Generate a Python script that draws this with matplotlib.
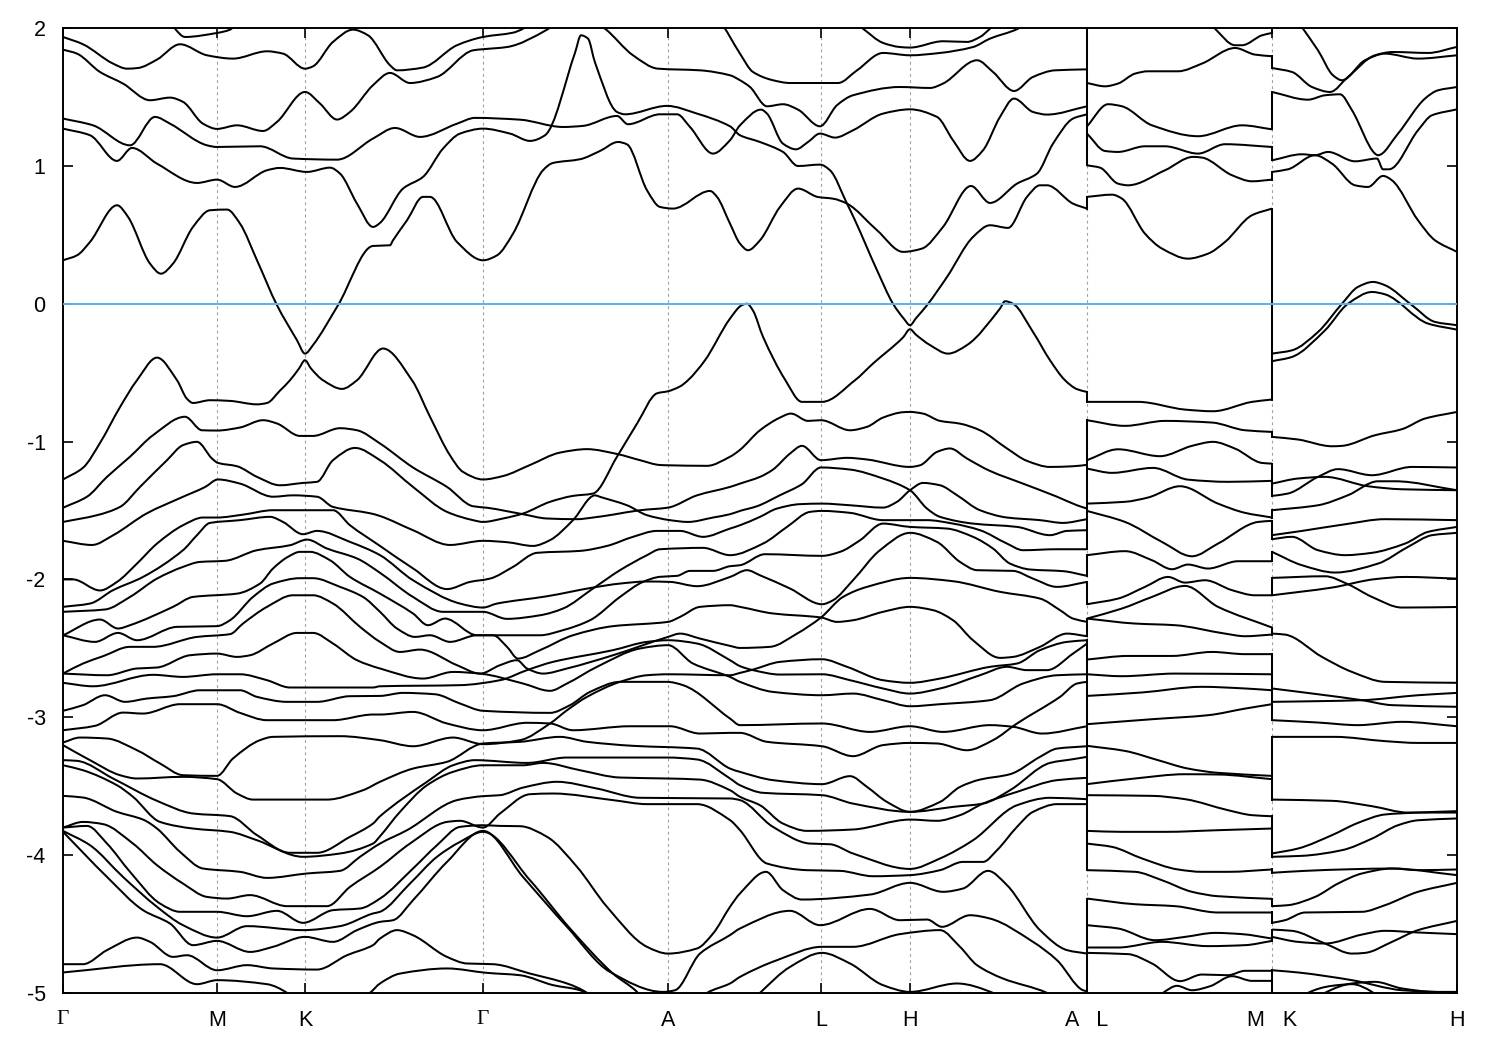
import matplotlib
matplotlib.use('Agg')
import matplotlib.pyplot as plt
from matplotlib.patches import PathPatch
from matplotlib.path import Path
import numpy as np

#######################################################################
#                                Data                                 #
#######################################################################
# Path length along the k-path, and the energies (k, eV) read for each band
k_ticks = [0, 154, 242, 420, 605, 758, 847, 1024, 1209, 1394]
k_labels = ['Γ', 'M', 'K', 'Γ', 'A', 'L', 'H', 'A   L', 'M   K', 'H']

# Γ-M-K-Γ-A-L-H-A, conduction side
top_a = [(0,1.935),(20,1.882),(50,1.742),(64,1.705),(75,1.71),(94,1.771),(117,1.882),(144,1.802),(170,1.778),(204,1.831),(220,1.814),(242,1.705),(250,1.722),(270,1.899),(290,1.988),(305,1.947),(327,1.73),(334,1.693),(360,1.713),(394,1.875),(420,1.935),(450,1.966),(460,1.995),(470,2.05)]
top_b = [(0,1.843),(14,1.814),(37,1.681),(60,1.597),(87,1.476),(107,1.495),(120,1.464),(140,1.306),(154,1.268),(174,1.294),(200,1.253),(214,1.319),(242,1.536),(257,1.452),(274,1.336),(287,1.391),(310,1.585),(327,1.674),(347,1.601),(374,1.645),(410,1.838),(420,1.846),(444,1.862),(484,1.988),(495,2.05)]
top_c = [(0,1.343),(30,1.294),(67,1.149),(92,1.355),(107,1.306),(144,1.149),(154,1.137),(197,1.142),(230,1.053),(274,1.045),(310,1.198),(332,1.275),(357,1.21),(394,1.306),(412,1.348),(457,1.335),(500,1.282),(520,1.29),(554,1.362),(565,1.302),(597,1.374),(614,1.374),(627,1.282),(650,1.089),(667,1.186),(677,1.294),(698,1.408),(704,1.379),(720,1.161),(733,1.12),(745,1.173),(757,1.234),(772,1.205),(790,1.258),(820,1.379),(847,1.41),(874,1.355),(890,1.186),(907,1.036),(920,1.113),(937,1.355),(951,1.488),(970,1.391),(984,1.372),(1024,1.432)]
top_d = [(0,1.27),(27,1.222),(54,1.036),(69,1.13),(94,1.016),(134,0.876),(154,0.90),(172,0.847),(204,0.968),(217,0.985),(244,0.956),(267,0.987),(277,0.944),(294,0.726),(310,0.557),(317,0.586),(340,0.835),(360,0.92),(380,1.125),(397,1.234),(420,1.27),(447,1.234),(467,1.181),(482,1.222),(512,1.82),(518,1.947),(525,1.923),(532,1.75),(554,1.391),(562,1.374),(604,1.435),(634,1.379),(667,1.287),(677,1.222),(697,1.173),(720,1.101),(735,0.999),(757,1.009),(767,0.968),(784,0.726),(792,0.605),(814,0.243),(830,0.0),(841,-0.11),(847,-0.156),(853,-0.105),(864,-0.011),(884,0.194),(910,0.484),(927,0.569),(945,0.55),(964,0.775),(977,0.859),(984,0.859),(1010,0.726),(1024,0.69)]
top_e = [(0,0.315),(14,0.351),(27,0.448),(54,0.714),(65,0.63),(87,0.291),(98,0.218),(110,0.291),(130,0.557),(147,0.678),(164,0.683),(177,0.581),(194,0.315),(214,-0.011),(234,-0.265),(242,-0.362),(250,-0.30),(275,-0.011),(310,0.419),(327,0.424),(330,0.46),(344,0.605),(360,0.775),(367,0.775),(394,0.448),(420,0.315),(434,0.351),(450,0.508),(480,0.968),(490,1.021),(517,1.048),(537,1.108),(555,1.173),(564,1.156),(584,0.823),(597,0.702),(610,0.69),(647,0.818),(654,0.775),(667,0.581),(677,0.436),(685,0.388),(697,0.46),(717,0.702),(735,0.835),(755,0.774),(770,0.762),(784,0.726),(814,0.533),(840,0.376),(859,0.40),(880,0.557),(908,0.854),(927,0.731),(954,0.871),(974,0.944),(990,1.161),(1010,1.343),(1024,1.374)]
top_f = [(108,2.05),(112,1.995),(122,1.935),(154,1.964),(167,1.988),(175,2.05)]
top_g = [(790,2.05),(800,1.995),(820,1.892),(837,1.862),(847,1.858),(880,1.904),(904,1.899),(917,1.935),(927,1.995),(935,2.05)]
top_h = [(530,2.05),(542,1.995),(570,1.802),(595,1.705),(637,1.693),(667,1.657),(677,1.621),(687,1.572),(704,1.432),(720,1.447),(735,1.408),(757,1.287),(774,1.44),(790,1.512),(837,1.572),(867,1.565),(880,1.597),(914,1.766),(930,1.681),(951,1.543),(970,1.645),(992,1.693),(1024,1.70)]
top_i = [(655,2.05),(662,1.995),(667,1.935),(677,1.814),(690,1.681),(710,1.621),(727,1.601),(775,1.601),(794,1.693),(820,1.819),(847,1.802),(877,1.819),(910,1.862),(927,1.923),(955,1.995),(965,2.05)]

# Γ-M-K-Γ-A-L-H-A, valence side
band_a = [(0,-1.275),(20,-1.19),(37,-1.01),(57,-0.75),(74,-0.555),(94,-0.391),(114,-0.555),(124,-0.69),(130,-0.72),(147,-0.70),(167,-0.705),(194,-0.73),(204,-0.72),(217,-0.63),(227,-0.555),(236,-0.47),(242,-0.41),(248,-0.47),(260,-0.555),(279,-0.618),(294,-0.555),(320,-0.325),(349,-0.555),(367,-0.82),(387,-1.10),(400,-1.22),(420,-1.275),(440,-1.25),(467,-1.17),(497,-1.08),(524,-1.055),(554,-1.09),(577,-1.135),(597,-1.17),(605,-1.172),(644,-1.176),(667,-1.11),(677,-1.06),(697,-0.918),(717,-0.826),(728,-0.797),(745,-0.85),(758,-0.845),(787,-0.918),(804,-0.893),(820,-0.826),(840,-0.787),(847,-0.785),(860,-0.797),(877,-0.85),(897,-0.87),(917,-0.918),(944,-1.05),(964,-1.14),(987,-1.184),(1010,-1.179),(1024,-1.169)]
band_b = [(0,-1.48),(24,-1.40),(44,-1.256),(67,-1.11),(90,-0.954),(122,-0.82),(139,-0.918),(154,-0.92),(177,-0.898),(200,-0.845),(214,-0.869),(237,-0.959),(250,-0.959),(277,-0.903),(294,-0.918),(317,-1.014),(350,-1.188),(384,-1.329),(410,-1.469),(424,-1.48),(460,-1.527),(484,-1.558),(514,-1.563),(530,-1.551),(550,-1.53),(577,-1.498),(605,-1.479),(634,-1.39),(667,-1.329),(677,-1.305),(697,-1.256),(710,-1.203),(727,-1.087),(739,-1.031),(758,-1.135),(784,-1.118),(804,-1.13),(847,-1.184),(857,-1.172),(874,-1.075),(887,-1.05),(904,-1.123),(927,-1.213),(960,-1.305),(994,-1.40),(1014,-1.462),(1024,-1.486)]
band_c = [(0,-1.583),(34,-1.534),(57,-1.474),(77,-1.329),(104,-1.135),(120,-1.026),(134,-1.002),(149,-1.123),(155,-1.155),(174,-1.179),(194,-1.256),(217,-1.317),(240,-1.30),(254,-1.292),(270,-1.135),(292,-1.046),(317,-1.135),(350,-1.329),(384,-1.51),(410,-1.57),(420,-1.583),(440,-1.558),(460,-1.522),(487,-1.437),(510,-1.394),(530,-1.377),(554,-1.11),(574,-0.87),(594,-0.65),(605,-0.635),(617,-0.60),(625,-0.555),(642,-0.41),(667,-0.108),(679,-0.01),(684,0.0),(690,-0.05),(700,-0.24),(722,-0.55),(739,-0.712),(759,-0.712),(792,-0.555),(810,-0.434),(840,-0.245),(847,-0.185),(853,-0.225),(867,-0.30),(885,-0.362),(904,-0.30),(937,-0.035),(942,0.018),(950,0.0),(970,-0.205),(987,-0.41),(1002,-0.555),(1014,-0.62),(1024,-0.64)]
band_d = [(0,-1.72),(29,-1.75),(50,-1.68),(84,-1.52),(117,-1.41),(142,-1.33),(155,-1.275),(177,-1.305),(210,-1.40),(230,-1.39),(254,-1.40),(270,-1.474),(307,-1.52),(317,-1.54),(350,-1.643),(387,-1.75),(420,-1.72),(444,-1.73),(470,-1.757),(487,-1.715),(510,-1.57),(532,-1.39),(537,-1.401),(564,-1.462),(584,-1.534),(607,-1.57),(625,-1.583),(650,-1.551),(667,-1.527),(677,-1.503),(694,-1.469),(717,-1.389),(739,-1.309),(758,-1.188),(787,-1.203),(820,-1.268),(847,-1.353),(864,-1.486),(877,-1.546),(910,-1.595),(954,-1.619),(987,-1.679),(1004,-1.648),(1024,-1.643)]
band_e = [(0,-2.0),(10,-2.0),(37,-2.08),(54,-2.018),(74,-1.885),(94,-1.74),(120,-1.607),(140,-1.551),(154,-1.551),(180,-1.53),(210,-1.498),(244,-1.498),(270,-1.498),(287,-1.607),(317,-1.757),(350,-1.92),(384,-2.07),(407,-2.018),(427,-1.994),(450,-1.909),(474,-1.807),(517,-1.793),(544,-1.757),(570,-1.691),(594,-1.648),(617,-1.648),(640,-1.691),(667,-1.631),(677,-1.607),(697,-1.546),(714,-1.486),(737,-1.454),(759,-1.45),(787,-1.462),(820,-1.479),(834,-1.437),(847,-1.353),(860,-1.30),(877,-1.317),(894,-1.389),(917,-1.498),(944,-1.551),(977,-1.57),(1000,-1.59),(1024,-1.563)]
band_f = [(0,-2.199),(27,-2.175),(50,-2.078),(80,-1.982),(120,-1.788),(134,-1.679),(147,-1.59),(177,-1.57),(207,-1.546),(220,-1.583),(240,-1.672),(254,-1.648),(287,-1.728),(317,-1.824),(350,-2.006),(397,-2.175),(420,-2.204),(434,-2.175),(484,-2.122),(530,-2.059),(557,-2.03),(584,-2.015),(607,-2.018),(634,-2.049),(667,-1.982),(684,-1.933),(697,-1.97),(727,-2.066),(759,-2.18),(770,-2.151),(790,-2.006),(817,-1.788),(847,-1.662),(874,-1.728),(897,-1.873),(914,-1.933),(950,-1.938),(970,-1.994),(994,-2.054),(1024,-2.018)]
band_g = [(0,-2.235),(42,-2.218),(67,-2.127),(94,-1.994),(120,-1.909),(137,-1.873),(162,-1.865),(194,-1.788),(227,-1.752),(244,-1.711),(264,-1.776),(294,-1.848),(317,-1.952),(350,-2.127),(380,-2.235),(420,-2.235),(444,-2.286),(477,-2.26),(500,-2.211),(530,-2.066),(557,-1.933),(584,-1.824),(597,-1.781),(640,-1.771),(667,-1.824),(700,-1.74),(724,-1.619),(747,-1.51),(759,-1.503),(787,-1.517),(820,-1.57),(864,-1.57),(890,-1.595),(917,-1.643),(944,-1.74),(960,-1.788),(994,-1.781),(1024,-1.781)]
band_h = [(0,-2.405),(37,-2.291),(55,-2.356),(67,-2.332),(110,-2.199),(130,-2.127),(174,-2.103),(197,-2.03),(210,-1.921),(225,-1.836),(237,-1.8),(247,-1.8),(267,-1.861),(287,-1.982),(317,-2.103),(350,-2.247),(365,-2.332),(382,-2.284),(414,-2.405),(477,-2.405),(500,-2.368),(527,-2.296),(557,-2.127),(580,-2.018),(597,-1.981),(614,-1.974),(627,-1.938),(650,-1.938),(667,-1.904),(677,-1.897),(702,-1.817),(759,-1.829),(777,-1.8),(797,-1.716),(820,-1.595),(847,-1.619),(884,-1.631),(910,-1.691),(930,-1.776),(947,-1.885),(967,-1.928),(1000,-1.94),(1024,-1.974)]
band_i = [(0,-2.405),(32,-2.453),(55,-2.388),(74,-2.441),(114,-2.344),(154,-2.339),(167,-2.296),(190,-2.127),(210,-2.03),(237,-1.991),(250,-1.991),(277,-2.054),(300,-2.127),(317,-2.235),(334,-2.356),(352,-2.417),(367,-2.405),(387,-2.453),(414,-2.405),(430,-2.405),(444,-2.489),(455,-2.574),(477,-2.513),(510,-2.405),(550,-2.339),(605,-2.308),(617,-2.272),(637,-2.199),(667,-2.187),(677,-2.199),(710,-2.247),(758,-2.276),(774,-2.308),(790,-2.296),(820,-2.235),(847,-2.199),(870,-2.223),(890,-2.296),(910,-2.441),(937,-2.569),(950,-2.562),(977,-2.489),(1004,-2.393),(1024,-2.412)]
band_j = [(0,-2.683),(20,-2.61),(40,-2.557),(67,-2.489),(90,-2.489),(134,-2.417),(167,-2.397),(180,-2.32),(204,-2.199),(230,-2.115),(250,-2.115),(270,-2.175),(297,-2.344),(317,-2.453),(337,-2.526),(357,-2.509),(394,-2.622),(417,-2.683),(437,-2.622),(454,-2.586),(464,-2.646),(480,-2.683),(504,-2.646),(550,-2.55),(605,-2.417),(617,-2.393),(637,-2.429),(667,-2.482),(677,-2.497),(707,-2.489),(734,-2.393),(758,-2.276),(780,-2.127),(804,-2.054),(847,-1.989),(890,-2.013),(937,-2.09),(977,-2.139),(997,-2.223),(1010,-2.284),(1024,-2.308)]
band_k = [(0,-2.683),(44,-2.695),(74,-2.646),(94,-2.639),(127,-2.55),(154,-2.538),(174,-2.562),(187,-2.55),(210,-2.465),(234,-2.388),(250,-2.388),(270,-2.465),(294,-2.586),(317,-2.646),(360,-2.719),(390,-2.671),(417,-2.683),(460,-2.755),(487,-2.808),(504,-2.755),(534,-2.634),(577,-2.501),(605,-2.477),(630,-2.61),(667,-2.707),(677,-2.743),(710,-2.816),(759,-2.84),(790,-2.828),(820,-2.876),(847,-2.92),(877,-2.905),(927,-2.876),(960,-2.755),(994,-2.695),(1024,-2.688)]
band_l = [(0,-2.75),(30,-2.775),(90,-2.692),(120,-2.707),(154,-2.688),(177,-2.688),(204,-2.731),(227,-2.784),(260,-2.784),(310,-2.784),(317,-2.775),(397,-2.767),(437,-2.731),(464,-2.658),(490,-2.598),(550,-2.513),(584,-2.453),(605,-2.441),(634,-2.465),(667,-2.586),(677,-2.629),(690,-2.658),(717,-2.69),(759,-2.688),(787,-2.731),(820,-2.791),(847,-2.828),(877,-2.791),(917,-2.695),(944,-2.634),(964,-2.658),(984,-2.658),(1010,-2.538),(1024,-2.465)]
band_m = [(0,-2.953),(20,-2.912),(42,-2.84),(62,-2.888),(84,-2.864),(110,-2.847),(137,-2.804),(177,-2.804),(194,-2.852),(224,-2.888),(254,-2.888),(287,-2.847),(317,-2.845),(340,-2.823),(372,-2.833),(397,-2.9),(420,-2.953),(487,-2.968),(507,-2.912),(527,-2.816),(557,-2.743),(604,-2.743),(620,-2.767),(667,-3.009),(677,-3.057),(759,-3.045),(807,-3.106),(847,-3.065),(880,-3.106),(927,-3.057),(950,-3.069),(979,-3.118),(1024,-3.065)]
band_n = [(0,-3.094),(32,-3.062),(60,-2.966),(80,-2.973),(117,-2.905),(154,-2.905),(177,-2.968),(204,-3.021),(270,-3.021),(310,-2.98),(317,-2.98),(350,-2.961),(384,-3.045),(420,-3.094),(464,-3.04),(487,-3.045),(510,-3.094),(567,-3.065),(607,-3.065),(637,-3.118),(667,-3.113),(677,-3.113),(704,-3.178),(759,-3.21),(790,-3.282),(820,-3.202),(847,-3.186),(874,-3.19),(904,-3.239),(930,-3.166),(954,-3.045),(997,-2.852),(1014,-2.755),(1024,-2.743)]
band_o = [(0,-3.183),(17,-3.147),(44,-3.154),(74,-3.239),(97,-3.335),(120,-3.42),(154,-3.425),(170,-3.299),(197,-3.166),(210,-3.142),(277,-3.137),(317,-3.166),(350,-3.21),(390,-3.147),(420,-3.195),(457,-3.166),(487,-3.045),(504,-2.949),(524,-2.852),(557,-2.743),(584,-2.695),(605,-2.688),(667,-2.695),(677,-2.678),(690,-2.654),(717,-2.598),(759,-2.579),(784,-2.634),(820,-2.731),(847,-2.75),(877,-2.719),(927,-2.634),(954,-2.61),(977,-2.513),(1004,-2.453),(1024,-2.441)]
band_p = [(0,-3.202),(27,-3.311),(57,-3.42),(74,-3.444),(120,-3.432),(154,-3.449),(174,-3.553),(190,-3.597),(264,-3.597),(300,-3.529),(317,-3.468),(350,-3.372),(384,-3.323),(420,-3.19),(457,-3.178),(497,-3.142),(524,-3.178),(570,-3.207),(634,-3.227),(667,-3.372),(677,-3.396),(710,-3.456),(759,-3.485),(787,-3.427),(804,-3.505),(824,-3.614),(847,-3.686),(877,-3.614),(897,-3.505),(917,-3.452),(947,-3.413),(977,-3.287),(994,-3.227),(1024,-3.21)]
band_q = [(0,-3.311),(14,-3.316),(50,-3.444),(94,-3.606),(130,-3.698),(167,-3.717),(194,-3.855),(227,-3.983),(254,-3.983),(287,-3.867),(310,-3.771),(317,-3.718),(364,-3.468),(390,-3.348),(412,-3.311),(464,-3.331),(504,-3.292),(524,-3.292),(604,-3.292),(634,-3.306),(667,-3.444),(677,-3.493),(700,-3.548),(759,-3.565),(790,-3.626),(847,-3.686),(890,-3.65),(920,-3.626),(947,-3.529),(987,-3.331),(1010,-3.304),(1024,-3.287)]
band_r = [(0,-3.348),(20,-3.384),(54,-3.493),(70,-3.577),(97,-3.759),(130,-3.807),(167,-3.831),(194,-3.892),(240,-4.012),(277,-3.988),(310,-3.916),(317,-3.863),(337,-3.686),(364,-3.493),(390,-3.396),(420,-3.348),(460,-3.348),(480,-3.331),(517,-3.384),(557,-3.437),(604,-3.444),(637,-3.452),(667,-3.529),(677,-3.577),(697,-3.638),(720,-3.771),(744,-3.824),(790,-3.814),(847,-3.742),(874,-3.751),(897,-3.71),(920,-3.626),(954,-3.541),(994,-3.456),(1024,-3.439)]
band_s = [(0,-3.57),(20,-3.582),(54,-3.686),(80,-3.742),(94,-3.807),(117,-3.976),(140,-4.097),(177,-4.121),(204,-4.165),(244,-4.133),(277,-4.114),(297,-4.012),(317,-3.916),(344,-3.819),(394,-3.601),(420,-3.572),(437,-3.565),(460,-3.51),(494,-3.468),(534,-3.517),(577,-3.584),(667,-3.589),(677,-3.601),(710,-3.795),(747,-3.916),(767,-3.921),(790,-3.988),(847,-4.1),(877,-4.024),(910,-3.892),(954,-3.638),(987,-3.584),(1024,-3.594)]
band_t = [(0,-3.8),(20,-3.759),(40,-3.775),(70,-3.916),(94,-4.073),(120,-4.206),(144,-4.303),(164,-4.315),(187,-4.29),(224,-4.37),(264,-4.37),(287,-4.23),(317,-4.085),(347,-3.916),(384,-3.759),(397,-3.751),(420,-3.8),(437,-3.698),(467,-3.558),(490,-3.553),(550,-3.601),(584,-3.63),(634,-3.63),(667,-3.746),(677,-3.819),(704,-4.061),(744,-4.109),(777,-4.114),(810,-4.153),(847,-4.145),(877,-4.109),(900,-4.049),(920,-4.049),(934,-3.964),(954,-3.795),(970,-3.686),(994,-3.63),(1024,-3.63)]
band_u = [(0,-3.8),(24,-3.788),(44,-3.916),(67,-4.121),(97,-4.351),(117,-4.411),(154,-4.411),(184,-4.443),(214,-4.404),(240,-4.491),(270,-4.399),(297,-4.387),(317,-4.315),(350,-4.097),(374,-3.928),(397,-3.795),(420,-3.783),(437,-3.788),(457,-3.79),(484,-3.867),(514,-4.085),(544,-4.375),(584,-4.665),(605,-4.714),(634,-4.677),(650,-4.569),(667,-4.375),(677,-4.278),(703,-4.121),(720,-4.254),(739,-4.322),(807,-4.286),(847,-4.201),(880,-4.266),(900,-4.242),(925,-4.114),(944,-4.218),(977,-4.544),(1004,-4.689),(1024,-4.714)]
band_v = [(0,-3.824),(27,-3.928),(60,-4.158),(94,-4.375),(120,-4.508),(154,-4.598),(184,-4.515),(240,-4.544),(277,-4.515),(310,-4.423),(317,-4.411),(347,-4.206),(374,-4.012),(397,-3.904),(420,-3.831),(467,-4.182),(507,-4.532),(550,-4.859),(574,-4.992),(580,-5.05)]
band_w = [(0,-3.831),(44,-4.158),(80,-4.399),(107,-4.496),(130,-4.653),(154,-4.622),(187,-4.702),(210,-4.665),(242,-4.593),(270,-4.629),(294,-4.544),(317,-4.484),(330,-4.472),(350,-4.327),(384,-4.049),(420,-3.824),(460,-4.158),(504,-4.52),(547,-4.847),(600,-4.992),(612,-4.98),(637,-4.714),(667,-4.58),(677,-4.532),(727,-4.404),(757,-4.508),(807,-4.39),(837,-4.472),(864,-4.467),(879,-4.52),(907,-4.436),(927,-4.46),(970,-4.629),(994,-4.762),(1020,-4.98),(1024,-4.987)]
band_x = [(0,-4.791),(20,-4.791),(44,-4.689),(74,-4.598),(87,-4.629),(110,-4.738),(124,-4.726),(154,-4.835),(184,-4.798),(210,-4.822),(254,-4.83),(284,-4.726),(310,-4.653),(317,-4.605),(334,-4.544),(350,-4.581),(384,-4.738),(404,-4.786),(430,-4.791),(467,-4.859),(504,-4.931),(525,-5.004),(530,-5.05)]
band_y = [(0,-4.851),(97,-4.791),(134,-4.936),(154,-4.907),(204,-4.936),(224,-4.999),(230,-5.05)]
band_z = [(297,-5.05),(307,-4.999),(317,-4.931),(337,-4.859),(384,-4.822),(424,-4.854),(457,-4.871),(490,-4.943),(517,-4.98),(530,-5.05)]
band_aa = [(637,-5.05),(644,-4.999),(667,-4.931),(677,-4.883),(714,-4.762),(759,-4.665),(790,-4.665),(837,-4.573),(877,-4.544),(897,-4.665),(914,-4.798),(940,-4.895),(984,-4.999),(994,-5.05)]
band_ab = [(690,-5.05),(697,-4.999),(727,-4.811),(759,-4.709),(787,-4.786),(820,-4.943),(847,-4.992),(894,-4.931),(930,-4.999),(939,-5.05)]

# L-M
lm_01 = [(1145,2.05),(1152,1.995),(1172,1.875),(1179,1.875),(1199,1.947),(1209,1.964)]
lm_02 = [(1024,1.601),(1042,1.577),(1055,1.597),(1072,1.669),(1085,1.686),(1115,1.686),(1139,1.742),(1172,1.855),(1192,1.807),(1209,1.795)]
lm_03 = [(1024,1.287),(1045,1.447),(1059,1.432),(1089,1.294),(1135,1.215),(1179,1.294),(1209,1.265)]
lm_04 = [(1024,1.234),(1042,1.108),(1055,1.101),(1082,1.142),(1102,1.142),(1135,1.089),(1162,1.157),(1209,1.137)]
lm_05 = [(1024,1.004),(1037,0.987),(1055,0.871),(1065,0.859),(1102,0.968),(1130,1.065),(1139,1.06),(1169,0.932),(1189,0.888),(1209,0.90)]
lm_06 = [(1024,0.775),(1049,0.791),(1059,0.762),(1082,0.508),(1099,0.40),(1125,0.327),(1145,0.363),(1162,0.448),(1189,0.642),(1209,0.69)]
lm_07 = [(1024,-0.712),(1075,-0.712),(1122,-0.768),(1150,-0.78),(1189,-0.712),(1209,-0.695)]
lm_08 = [(1024,-0.845),(1062,-0.886),(1102,-0.85),(1149,-0.862),(1182,-0.918),(1209,-0.93)]
lm_09 = [(1024,-1.135),(1055,-1.056),(1097,-1.106),(1129,-1.031),(1150,-1.002),(1172,-1.051),(1199,-1.155),(1209,-1.16)]
lm_10 = [(1024,-1.196),(1049,-1.227),(1090,-1.191),(1125,-1.276),(1165,-1.292),(1209,-1.285)]
lm_11 = [(1024,-1.45),(1062,-1.437),(1085,-1.406),(1117,-1.324),(1155,-1.45),(1182,-1.517),(1209,-1.551)]
lm_12 = [(1024,-1.503),(1062,-1.583),(1099,-1.728),(1129,-1.832),(1155,-1.74),(1195,-1.583),(1209,-1.575)]
lm_13 = [(1024,-1.824),(1062,-1.795),(1089,-1.861),(1109,-1.926),(1125,-1.892),(1145,-1.921),(1175,-1.868),(1209,-1.868)]
lm_14 = [(1024,-2.18),(1055,-2.139),(1082,-2.054),(1105,-1.982),(1122,-2.023),(1142,-2.006),(1169,-2.078),(1192,-2.115),(1209,-2.115)]
lm_15 = [(1024,-2.284),(1059,-2.211),(1089,-2.127),(1122,-2.047),(1155,-2.199),(1209,-2.349)]
lm_16 = [(1024,-2.284),(1072,-2.32),(1112,-2.332),(1162,-2.393),(1182,-2.412),(1209,-2.40)]
lm_17 = [(1024,-2.581),(1065,-2.555),(1109,-2.555),(1149,-2.526),(1182,-2.542),(1209,-2.542)]
lm_18 = [(1024,-2.688),(1059,-2.702),(1112,-2.683),(1209,-2.688)]
lm_19 = [(1024,-2.845),(1079,-2.82),(1139,-2.779),(1182,-2.791),(1209,-2.804)]
lm_20 = [(1024,-3.05),(1089,-3.014),(1145,-2.985),(1182,-2.937),(1209,-2.905)]
lm_21 = [(1024,-3.207),(1062,-3.244),(1095,-3.311),(1125,-3.372),(1155,-3.403),(1209,-3.425)]
lm_22 = [(1024,-3.485),(1072,-3.444),(1122,-3.413),(1155,-3.415),(1209,-3.449)]
lm_23 = [(1024,-3.565),(1089,-3.57),(1122,-3.594),(1165,-3.674),(1189,-3.71),(1209,-3.718)]
lm_24 = [(1024,-3.824),(1059,-3.831),(1102,-3.831),(1155,-3.819),(1209,-3.807)]
lm_25 = [(1024,-3.916),(1049,-3.94),(1079,-4.024),(1115,-4.104),(1139,-4.121),(1165,-4.121),(1209,-4.104)]
lm_26 = [(1024,-4.109),(1072,-4.121),(1099,-4.182),(1129,-4.266),(1155,-4.298),(1209,-4.317)]
lm_27 = [(1024,-4.315),(1072,-4.356),(1112,-4.37),(1155,-4.416),(1209,-4.416)]
lm_28 = [(1024,-4.508),(1055,-4.532),(1092,-4.617),(1122,-4.593),(1152,-4.564),(1179,-4.573),(1209,-4.605)]
lm_29 = [(1024,-4.67),(1055,-4.67),(1099,-4.629),(1145,-4.66),(1182,-4.653),(1209,-4.622)]
lm_30 = [(1024,-4.709),(1065,-4.718),(1089,-4.786),(1117,-4.914),(1139,-4.866),(1165,-4.871),(1182,-4.839),(1209,-4.839)]
lm_31 = [(1092,-5.05),(1100,-4.999),(1114,-4.948),(1129,-4.98),(1147,-4.951),(1169,-4.878),(1189,-4.912),(1209,-4.912)]

# K-H
kh_01 = [(1235,2.05),(1240,1.995),(1255,1.838),(1270,1.657),(1279,1.621),(1302,1.766),(1322,1.814),(1355,1.778),(1394,1.802)]
kh_02 = [(1209,1.71),(1229,1.681),(1249,1.572),(1267,1.536),(1285,1.645),(1312,1.802),(1330,1.826),(1365,1.819),(1394,1.863)]
kh_03 = [(1209,1.536),(1245,1.48),(1262,1.512),(1277,1.519),(1289,1.403),(1312,1.089),(1315,1.077),(1335,1.234),(1362,1.488),(1375,1.548),(1394,1.572)]
kh_04 = [(1209,1.04),(1239,1.084),(1252,1.077),(1265,1.101),(1292,1.033),(1314,1.053),(1320,0.975),(1326,0.975),(1355,1.258),(1369,1.367),(1394,1.41)]
kh_05 = [(1209,0.956),(1225,0.975),(1252,1.077),(1269,1.016),(1292,0.859),(1305,0.847),(1320,0.927),(1329,0.895),(1355,0.605),(1372,0.46),(1394,0.376)]
kh_06 = [(1209,-0.362),(1229,-0.338),(1255,-0.205),(1279,0.0),(1295,0.122),(1310,0.158),(1322,0.134),(1349,-0.011),(1372,-0.132),(1394,-0.156)]
kh_07 = [(1209,-0.417),(1229,-0.386),(1262,-0.193),(1285,0.0),(1309,0.085),(1322,0.068),(1365,-0.144),(1394,-0.188)]
kh_08 = [(1209,-0.966),(1235,-0.985),(1269,-1.034),(1279,-1.031),(1312,-0.954),(1339,-0.91),(1362,-0.833),(1394,-0.785)]
kh_09 = [(1209,-1.305),(1235,-1.268),(1262,-1.256),(1305,-1.324),(1339,-1.346),(1394,-1.353)]
kh_10 = [(1209,-1.394),(1225,-1.377),(1255,-1.256),(1275,-1.2),(1309,-1.244),(1349,-1.184),(1394,-1.188)]
kh_11 = [(1209,-1.498),(1255,-1.462),(1285,-1.389),(1315,-1.288),(1332,-1.288),(1394,-1.353)]
kh_12 = [(1209,-1.679),(1239,-1.648),(1282,-1.6),(1322,-1.563),(1394,-1.57)]
kh_13 = [(1209,-1.708),(1229,-1.691),(1255,-1.788),(1282,-1.824),(1309,-1.807),(1342,-1.74),(1365,-1.655),(1394,-1.619)]
kh_14 = [(1209,-1.80),(1239,-1.897),(1272,-1.95),(1315,-1.885),(1345,-1.764),(1369,-1.679),(1394,-1.662)]
kh_15 = [(1209,-1.989),(1262,-1.977),(1285,-2.035),(1309,-2.127),(1339,-2.204),(1394,-2.2)]
kh_16 = [(1209,-2.115),(1269,-2.059),(1312,-1.998),(1342,-1.982),(1394,-1.994)]
kh_17 = [(1209,-2.393),(1222,-2.40),(1259,-2.562),(1289,-2.671),(1322,-2.743),(1394,-2.75)]
kh_18 = [(1209,-2.791),(1255,-2.833),(1299,-2.876),(1329,-2.912),(1394,-2.924)]
kh_19 = [(1209,-2.888),(1255,-2.883),(1299,-2.876),(1355,-2.84),(1394,-2.823)]
kh_20 = [(1209,-3.021),(1255,-3.038),(1295,-3.057),(1339,-3.033),(1394,-3.065)]
kh_21 = [(1209,-3.142),(1272,-3.142),(1322,-3.173),(1355,-3.186),(1394,-3.186)]
kh_22 = [(1209,-3.597),(1269,-3.606),(1309,-3.645),(1345,-3.691),(1394,-3.691)]
kh_23 = [(1209,-3.988),(1235,-3.952),(1269,-3.855),(1295,-3.766),(1322,-3.705),(1355,-3.691),(1394,-3.681)]
kh_24 = [(1209,-4.012),(1239,-4.005),(1279,-3.964),(1309,-3.88),(1335,-3.783),(1355,-3.747),(1394,-3.734)]
kh_25 = [(1209,-4.128),(1242,-4.114),(1289,-4.102),(1329,-4.097),(1394,-4.145)]
kh_26 = [(1209,-4.37),(1225,-4.363),(1252,-4.303),(1275,-4.206),(1299,-4.133),(1329,-4.097),(1355,-4.109),(1394,-4.104)]
kh_27 = [(1209,-4.491),(1222,-4.472),(1242,-4.416),(1299,-4.411),(1322,-4.363),(1355,-4.266),(1394,-4.201)]
kh_28 = [(1209,-4.54),(1229,-4.549),(1262,-4.641),(1289,-4.714),(1302,-4.709),(1329,-4.629),(1355,-4.544),(1394,-4.477)]
kh_29 = [(1209,-4.593),(1235,-4.629),(1262,-4.641),(1299,-4.576),(1322,-4.549),(1355,-4.561),(1394,-4.573)]
kh_30 = [(1209,-4.835),(1235,-4.851),(1289,-4.907),(1339,-4.98),(1372,-4.992),(1394,-4.999)]
kh_31 = [(1240,-5.05),(1245,-4.999),(1269,-4.948),(1289,-4.936),(1309,-4.992),(1315,-5.05)]
kh_32 = [(1255,-5.05),(1262,-4.999),(1289,-4.931),(1312,-4.919),(1339,-4.967),(1372,-4.992),(1394,-4.992)]

# Energy jumps where the path is broken (A|L and M|K)
jumps_al = [(2.05,1.004),(0.775,0.69),(-0.64,-0.712),(-0.845,-1.781),(-1.824,-1.974),(-2.018,-2.18),(-2.284,-2.412),(-2.441,-4.109),(-4.315,-5.0)]
jumps_mk = [(2.05,1.964),(1.795,1.71),(1.536,1.265),(1.137,1.04),(0.956,0.90),(0.69,-0.695),(-0.93,-0.966),(-1.16,-1.394),(-1.498,-1.551),(-1.575,-1.708),(-1.80,-1.868),(-1.989,-2.115),(-2.349,-2.40),(-2.542,-3.021),(-3.142,-3.597),(-3.718,-4.012),(-4.104,-4.128),(-4.317,-4.37),(-4.416,-4.491),(-4.54,-4.622),(-4.835,-5.0)]

main_bands = [top_a, top_b, top_c, top_d, top_e, top_f, top_g, top_h, top_i,
              band_a, band_b, band_c, band_d, band_e, band_f, band_g, band_h,
              band_i, band_j, band_k, band_l, band_m, band_n, band_o, band_p,
              band_q, band_r, band_s, band_t, band_u, band_v, band_w, band_x,
              band_y, band_z, band_aa, band_ab]
lm_bands = [lm_01, lm_02, lm_03, lm_04, lm_05, lm_06, lm_07, lm_08, lm_09, lm_10,
            lm_11, lm_12, lm_13, lm_14, lm_15, lm_16, lm_17, lm_18, lm_19, lm_20,
            lm_21, lm_22, lm_23, lm_24, lm_25, lm_26, lm_27, lm_28, lm_29, lm_30, lm_31]
kh_bands = [kh_01, kh_02, kh_03, kh_04, kh_05, kh_06, kh_07, kh_08, kh_09, kh_10,
            kh_11, kh_12, kh_13, kh_14, kh_15, kh_16, kh_17, kh_18, kh_19, kh_20,
            kh_21, kh_22, kh_23, kh_24, kh_25, kh_26, kh_27, kh_28, kh_29, kh_30,
            kh_31, kh_32]


#######################################################################
#                              Functions                              #
#######################################################################
def band_path(band):
    """Smooth Bezier path that goes through every read point of a band,
    slopes are limited so it does not overshoot between the points"""
    xs = np.array([p[0] for p in band], dtype=float)
    ys = np.array([p[1] for p in band], dtype=float)
    h = np.diff(xs)
    d = np.diff(ys) / h
    m = np.zeros_like(xs)
    m[0], m[-1] = d[0], d[-1]
    for i in range(1, len(xs) - 1):
        if d[i-1] * d[i] > 0:
            m[i] = 2 * d[i-1] * d[i] / (d[i-1] + d[i])
    verts = [(xs[0], ys[0])]
    codes = [Path.MOVETO]
    for i in range(len(h)):
        verts += [(xs[i] + h[i]/3, ys[i] + m[i]*h[i]/3),
                  (xs[i+1] - h[i]/3, ys[i+1] - m[i+1]*h[i]/3),
                  (xs[i+1], ys[i+1])]
        codes += [Path.CURVE4] * 3
    return Path(verts, codes)


#######################################################################
#                                Plot                                 #
#######################################################################
plt.rcParams['font.family'] = ['Liberation Sans', 'DejaVu Sans']
plt.rcParams['axes.unicode_minus'] = False

fig = plt.figure(figsize=(15, 10.5), dpi=100)
ax = fig.add_axes([63/1500, 57/1050, 1394/1500, 965/1050])

for k in k_ticks[1:-1]:
    ax.axvline(k, color='#a0a0a0', lw=0.8, ls=(0, (2.5, 3)), zorder=1)

for band in main_bands + lm_bands + kh_bands:
    ax.add_patch(PathPatch(band_path(band), fill=False, edgecolor='black',
                           lw=1.45, joinstyle='round', zorder=2))

# Vertical jumps at the two breaks in the path
for k, jumps in ((k_ticks[7], jumps_al), (k_ticks[8], jumps_mk)):
    for e_top, e_bot in jumps:
        ax.plot([k, k], [e_top, e_bot], color='black', lw=1.45, zorder=2)

ax.axhline(0, color='#56B4E9', lw=1.4, zorder=3)

ax.set_xlim(0, 1394)
ax.set_ylim(-5, 2)
ax.set_yticks(range(-5, 3))
ax.set_xticks(k_ticks)
ax.set_xticklabels(k_labels)
ax.tick_params(direction='in', length=7.5, width=1.2, top=True, right=True,
               labelsize=15.5)
ax.tick_params(axis='y', pad=12.5)
ax.tick_params(axis='x', pad=12.5)
for lab in ax.get_xticklabels():
    if lab.get_text() == 'Γ':
        lab.set_family('Liberation Serif')
for spine in ax.spines.values():
    spine.set_linewidth(1.4)

fig.savefig('out.png', dpi=100)
